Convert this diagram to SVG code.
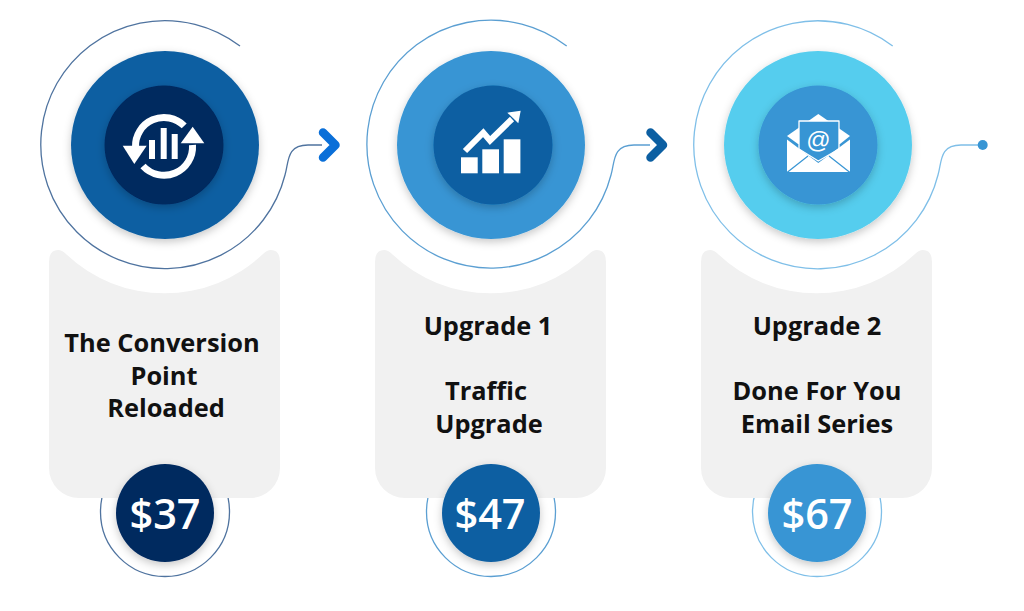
<svg xmlns="http://www.w3.org/2000/svg" width="1024" height="611" viewBox="0 0 1024 611">
<style>
.ln{fill:none;stroke-width:1.3}
.t{font-family:"Open Sans","Noto Sans","Liberation Sans",sans-serif;font-weight:700;font-size:25.4px;fill:#111;text-anchor:middle}
.p{font-family:"Open Sans","Noto Sans","Liberation Sans",sans-serif;font-weight:600;font-size:41.5px;fill:#fff;text-anchor:middle}
.card{fill:#f1f1f1}
.chev{fill:none;stroke-width:8.5;stroke-linecap:round;stroke-linejoin:round}
.sh{filter:url(#s)}
.w{fill:#fff}
</style>
<defs>
<filter id="s" x="-30%" y="-30%" width="160%" height="160%"><feDropShadow dx="0" dy="3" stdDeviation="4" flood-color="#000" flood-opacity=".22"/></filter>
<path id="c" d="M49,262 Q49,250 58,250 Q62,250 66,254 A143,143 0 0 0 263,254 Q267,250 271,250 Q280,250 280,262 V468 A30,30 0 0 1 250,498 H79 A30,30 0 0 1 49,468 Z"/>
</defs>
<rect width="1024" height="611" fill="#fff"/>
<g id="connectors">
<path class="ln" stroke="#4f739f" d="M240,46 A124,124 0 1 0 285,175 C289,162 286,145 308,145 L322,145"/>
<path class="ln" stroke="#5b9fd2" d="M566.7,46 A124,124 0 1 0 611,175 C615,162 612,145 634,145 L650,145"/>
<path class="ln" stroke="#7fbfe8" d="M892.7,46 A124,124 0 1 0 938,175 C942,162 939,145 961,145 L980,145"/>
<polyline class="chev" stroke="#0a6fd8" points="323,132.5 335.5,145 323,157.5"/>
<polyline class="chev" stroke="#0c5fa2" points="650.5,132.5 663,145 650.5,157.5"/>
<circle cx="982.7" cy="145" r="5" fill="#3795d4"/>
</g>
<g id="node1">
<circle cx="165" cy="512" r="64.5" class="ln" stroke="#4f739f"/>
<use href="#c" class="card"/>
<circle cx="165" cy="145" r="94" fill="#0c5fa2" class="sh"/>
<circle cx="164" cy="145" r="59.5" fill="#03295f" class="sh"/>
<g class="w"><rect x="149" y="140" width="6" height="19"/><rect x="160.7" y="128" width="6" height="31"/><rect x="171.7" y="134" width="6" height="25"/>
<polygon points="122.7,145.7 146.7,145.7 134.3,164"/><polygon points="180.7,143.3 204.3,143.3 192.7,126.7"/></g>
<path fill="none" stroke="#fff" stroke-width="7" d="M135.5,147 A28.5,28.5 0 0 1 184.2,125.9 M192.5,145 A28.5,28.5 0 0 1 143,166"/>
<text class="t" x="162" y="352">The Conversion</text>
<text class="t" x="164" y="385">Point</text>
<text class="t" x="166" y="417">Reloaded</text>
<circle cx="165" cy="513" r="49" fill="#03295f" class="sh"/>
<text class="p" x="165" y="529">$37</text>
</g>
<g id="node2">
<circle cx="491" cy="512" r="64.5" class="ln" stroke="#5b9fd2"/>
<use href="#c" x="326" class="card"/>
<circle cx="491" cy="145" r="94" fill="#3795d4" class="sh"/>
<circle cx="493" cy="145" r="59.5" fill="#0c5fa2" class="sh"/>
<g class="w"><rect x="461" y="157.3" width="16.7" height="16"/><rect x="482.3" y="149.3" width="16.7" height="24"/><rect x="503.7" y="139.3" width="16.7" height="34"/>
<polygon points="520.7,110.7 507.3,112.7 518.3,123.3"/></g>
<polyline fill="none" stroke="#fff" stroke-width="6" points="465,151 483.3,132.7 490,140.5 512,119"/>
<text class="t" x="488" y="335">Upgrade 1</text>
<text class="t" x="486" y="400">Traffic</text>
<text class="t" x="489" y="433">Upgrade</text>
<circle cx="491" cy="513" r="49" fill="#0c5fa2" class="sh"/>
<text class="p" x="490" y="529">$47</text>
</g>
<g id="node3">
<circle cx="817" cy="512" r="64.5" class="ln" stroke="#7fbfe8"/>
<use href="#c" x="652" class="card"/>
<circle cx="818" cy="145" r="94" fill="#55cdee" class="sh"/>
<circle cx="818" cy="145" r="59.5" fill="#3795d4" class="sh"/>
<path class="w" d="M787,136 L818.3,114 L850,136 L840,144 H798 Z"/>
<path fill="#3795d4" stroke="#fff" stroke-width="1.3" stroke-linejoin="round" d="M799,121 H839 V149 L818.3,161 L799,149 Z"/>
<path class="w" d="M787,139.5 L818.3,163 L850,139.5 V172 H787 Z"/>
<path fill="none" stroke="#3795d4" stroke-width="1.2" d="M787,172.5 L808,156 M850,172.5 L829,156"/>
<text x="818.5" y="148" font-family="'Liberation Sans',sans-serif" font-size="24" fill="#fff" text-anchor="middle">@</text>
<text class="t" x="817" y="335">Upgrade 2</text>
<text class="t" x="817" y="400">Done For You</text>
<text class="t" x="817" y="433">Email Series</text>
<circle cx="817" cy="513" r="49" fill="#3795d4" class="sh"/>
<text class="p" x="817" y="529">$67</text>
</g>
</svg>
